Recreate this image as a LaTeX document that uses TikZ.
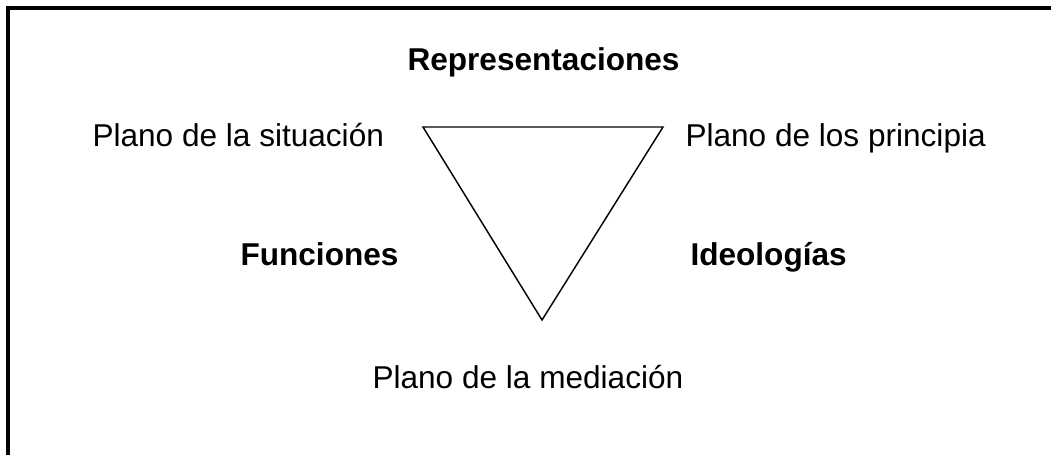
\documentclass[tikz,border=0pt]{standalone}
\usepackage{fontspec}
\setmainfont{Liberation Sans}
\begin{document}
\begin{tikzpicture}[x=0.38pt,y=-0.38pt]
	\tikzstyle{every node}=[inner sep=0pt,anchor=base west,font=\fontsize{12}{14}\selectfont];
    \tikzstyle{heading}=[font=\fontsize{12}{14}\selectfont\bfseries];
    \useasboundingbox (0,0) rectangle (1051,455);

    \draw[line width=1.2pt] (8,455) -- (8,8) -- (1051,8);

    \coordinate (tl) at (423,127);
    \coordinate (tr) at (663,127);
    \coordinate (tb) at (542,320);
    \draw[line width=0.55pt,line join=miter] (tl) -- (tr) -- (tb) -- cycle;

    \node at (407,70) (rep) [heading] {Representaciones};
    \node at (92,146) (sit) {Plano de la situación};
    \node at (685,146) (pri) {Plano de los principia};
    \node at (240,265) (fun) [heading] {Funciones};
    \node at (690,265) (ide) [heading] {Ideologías};
    \node at (372,388) (med) {Plano de la mediación};
\end{tikzpicture}
\end{document}
